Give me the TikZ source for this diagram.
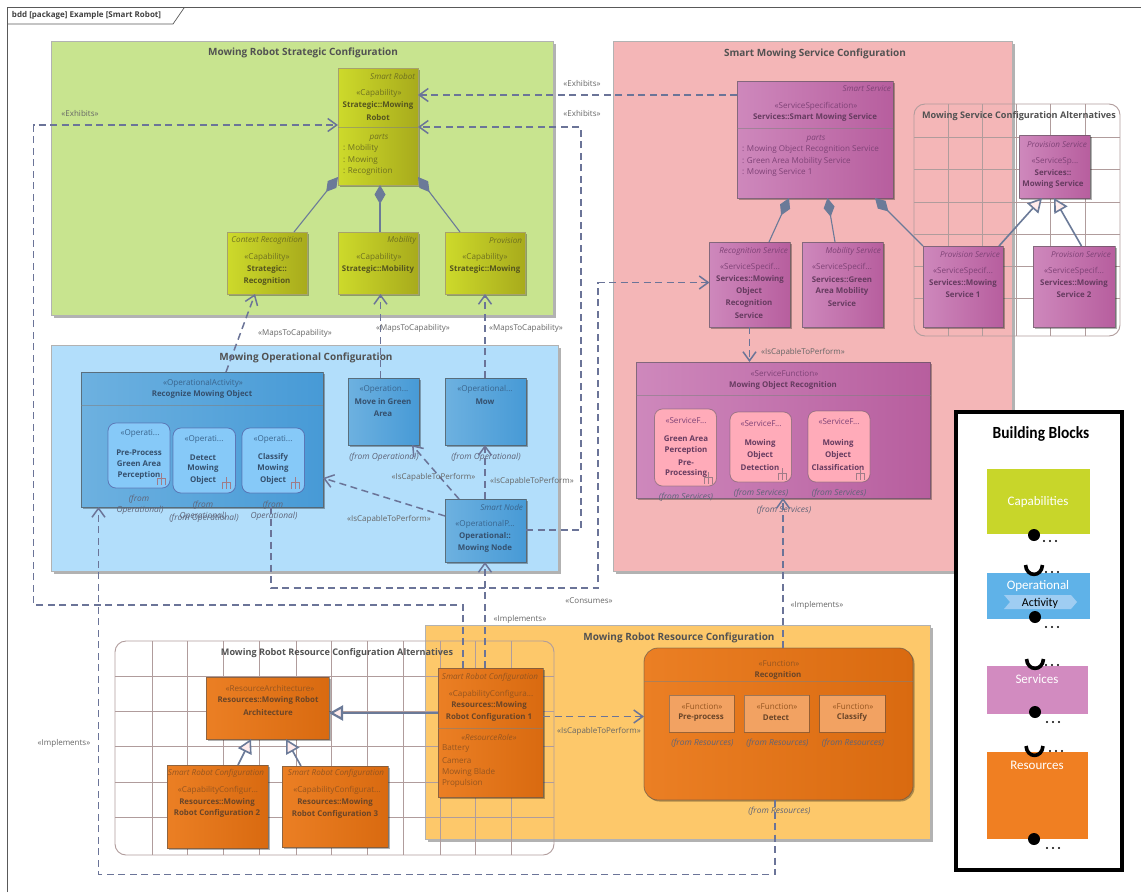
\documentclass[tikz,border=0pt]{standalone}
\usepackage{fontspec}
\usepackage{graphicx}
\setmainfont{Open Sans}
\newfontfamily\legfont{Carlito}
\usetikzlibrary{arrows.meta,shadows,calc}
\newcounter{txn}
% free text: x, y (centre of first line), style, text
\newcommand{\tx}[4]{\stepcounter{txn}\node[txtbase,#3] (t\number\value{txn}) at ({#1},{#2}) {#4};}
% box: style, name, x1, y1, x2, y2
\newcommand{\bx}[6]{\pgfmathsetmacro{\bw}{#5-#3}\pgfmathsetmacro{\bh}{#6-#4}%
 \node[boxbase,#1,minimum width=\bw pt,minimum height=\bh pt] (#2) at ({(#3+#5)/2},{(#4+#6)/2}) {};}
\newcommand{\rake}[2]{\draw[rakeline] ({#1},{#2-6}) -- ({#1},{#2+6}) ({#1-4},{#2+6}) -- ({#1-4},{#2-1}) -- ({#1+4},{#2-1}) -- ({#1+4},{#2+6});}
\newcommand{\mydots}[2]{\stepcounter{txn}\node[legdots] (t\number\value{txn}) at ({#1},{#2}) {};
 \fill ({#1-6},{#2}) circle (1.2) ({#1},{#2}) circle (1.2) ({#1+6},{#2}) circle (1.2);}
\definecolor{dashc}{HTML}{6B7498}
\definecolor{solidc}{HTML}{6B7A98}
\definecolor{gridc}{HTML}{B09C9C}
\definecolor{stc}{HTML}{6E7020}
\definecolor{nmc}{HTML}{55551F}
\tikzset{
 x=1pt,y=-1pt,
 txtbase/.style={inner sep=0pt,outer sep=0pt,align=center,yshift=-.8pt},
 legdots/.style={inner sep=0pt,minimum size=0pt},
 boxbase/.style={rectangle,outer sep=0pt,inner sep=0pt,line width=.8pt},
 st/.style={font=\fontsize{8.1}{11.8}\selectfont,text=stc},
 nm/.style={font=\bfseries\fontsize{7.9}{11.8}\selectfont,text=nmc},
 it/.style={font=\itshape\fontsize{8.1}{11.8}\selectfont,text=stc},
 pl/.style={font=\fontsize{8.1}{11.8}\selectfont,text=stc,anchor=west},
 lab/.style={font=\fontsize{8}{10}\selectfont,text=black!60},
 fromlab/.style={font=\itshape\fontsize{8.4}{11.8}\selectfont,text=fromc},
 pkgtitle/.style={font=\bfseries\fontsize{10}{12}\selectfont,text=black!68,yshift=-1pt},
 alttitle/.style={font=\bfseries\fontsize{9.1}{12}\selectfont,text=black!68,yshift=-.6pt},
 pkg/.style={draw=black!30,line width=1pt,drop shadow={shadow xshift=2.5pt,shadow yshift=-2.5pt,opacity=.3,fill=black}},
 alt/.style={draw=gridc,line width=.9pt,rounded corners=11pt},
 capbox/.style={draw=black!30!yellow!50!gray,left color=cCap1,right color=cCap2,drop shadow={shadow xshift=1.5pt,shadow yshift=-1.5pt,opacity=.3,fill=black}},
 opbox/.style={draw=black!35!gray,draw opacity=.7,left color=cOp1,right color=cOp2,drop shadow={shadow xshift=1.5pt,shadow yshift=-1.5pt,opacity=.3,fill=black}},
 svbox/.style={draw=black!35!gray,draw opacity=.6,left color=cSv1,right color=cSv2,drop shadow={shadow xshift=1.5pt,shadow yshift=-1.5pt,opacity=.3,fill=black}},
 rsbox/.style={draw=black!35!gray,draw opacity=.6,left color=cRs1,right color=cRs2,drop shadow={shadow xshift=1.5pt,shadow yshift=-1.5pt,opacity=.3,fill=black}},
 innerop/.style={draw=black!30!blue!40!gray,draw opacity=.6,fill=cOpIn,rounded corners=8pt},
 innersv/.style={draw=black!30!gray,draw opacity=.5,fill=cSvIn,rounded corners=8pt},
 innerrs/.style={draw=black!40!gray,draw opacity=.5,fill=cRsIn},
 divider/.style={draw=black!50,draw opacity=.55,line width=.8pt},
 rakeline/.style={draw=rakec,line width=.7pt},
 dep/.style={draw=dashc,line width=1.5pt,dash pattern=on 7pt off 4.5pt,-{Straight Barb[length=9pt,width=13pt,line width=1.5pt]}},
 comp/.style={draw=solidc,line width=1.1pt,-{Diamond[length=19pt,width=11pt,fill=solidc]}},
 gen/.style={draw=solidc,line width=1.6pt,-{Triangle[open,length=14pt,width=15pt,fill=white!92!red]}},
 genb/.style={gen,line width=2.2pt},
 legbox/.style={rectangle,outer sep=0pt,inner sep=0pt},
 legtxt/.style={font=\legfont\fontsize{13}{15}\selectfont,text=white},
}
\definecolor{fromc}{HTML}{5F6478}
\definecolor{rakec}{HTML}{A07C88}
\definecolor{cCap1}{HTML}{CDDA2B}\definecolor{cCap2}{HTML}{A8AB1C}
\definecolor{cOp1}{HTML}{6DB1E0}\definecolor{cOp2}{HTML}{479AD6}
\definecolor{cSv1}{HTML}{CE88BC}\definecolor{cSv2}{HTML}{B75E9E}
\definecolor{cRs1}{HTML}{EB7F24}\definecolor{cRs2}{HTML}{D96A10}
\definecolor{cOpIn}{HTML}{86C9F8}\definecolor{cSvIn}{HTML}{FFABB9}\definecolor{cRsIn}{HTML}{F2A262}
\definecolor{pGreen}{HTML}{C8E48F}\definecolor{pPink}{HTML}{F4B6B7}\definecolor{pBlue}{HTML}{B2DEFB}\definecolor{pOrange}{HTML}{FDC86A}
\definecolor{lCap}{HTML}{C8D62A}\definecolor{lOp}{HTML}{5FB2E8}\definecolor{lSv}{HTML}{D28BC0}\definecolor{lRs}{HTML}{F07F22}\definecolor{lArrow}{HTML}{9FCDF2}
\begin{document}
\begin{tikzpicture}
\useasboundingbox (0,0) rectangle (1141,892);
\fill[white] (0,0) rectangle (1141,892);
% diagram frame
\coordinate (fbl) at (7,892);\coordinate (ftl) at (7,7);\coordinate (ftr) at (1141,7);
\coordinate (tabA) at (184,8);\coordinate (tabB) at (173,24);\coordinate (tabC) at (7,24);
\draw[black!65,line width=1pt] (fbl) -- (ftl) -- (ftr);
\draw[black!65,line width=.7pt] (tabA) -- (tabB) -- (tabC);
\tx{12}{15}{anchor=west,font=\bfseries\fontsize{8}{10}\selectfont,text=black!75}{bdd [package] Example [Smart Robot]}
% packages
\bx{pkg,fill=pGreen}{pkgS}{51}{41}{553}{315}
\bx{pkg,fill=pPink}{pkgV}{613}{41}{1012}{571}
\bx{pkg,fill=pBlue}{pkgO}{51}{345}{558}{571}
\bx{pkg,fill=pOrange}{pkgR}{425}{625}{930}{839}
\tx{303}{51}{pkgtitle}{Mowing Robot Strategic Configuration}
\tx{815}{52}{pkgtitle}{Smart Mowing Service Configuration}
\tx{306}{356}{pkgtitle}{Mowing Operational Configuration}
\tx{679}{636}{pkgtitle}{Mowing Robot Resource Configuration}
% alternatives
\begin{scope}
\clip[rounded corners=11pt] (914,104) rectangle (1120,336);
\draw[gridc,line width=.8pt]
 \foreach \gx in {948,982.5,1016,1050,1085} {(\gx,104) -- (\gx,336)}
 \foreach \gy in {137,169,202,234,266.5,298.5} {(914,\gy) -- (1120,\gy)};
\end{scope}
\node[boxbase,alt,minimum width=206pt,minimum height=232pt] (altV) at (1017,220) {};
\tx{1019}{115}{alttitle}{Mowing Service Configuration Alternatives}
\begin{scope}
\clip[rounded corners=11pt] (115,641) rectangle (554,855);
\draw[gridc,line width=.8pt]
 \foreach \gx in {152,187,223,259,296,331,367,403,440,475,511} {(\gx,641) -- (\gx,855)}
 \foreach \gy in {676,711.5,746,782,817} {(115,\gy) -- (554,\gy)};
\end{scope}
\node[boxbase,alt,minimum width=439pt,minimum height=214pt] (altR) at (334.5,748) {};
\tx{337}{652}{alttitle}{Mowing Robot Resource Configuration Alternatives}
% capability boxes
\bx{capbox}{robot}{338}{68}{418}{185}
\bx{capbox}{ctx}{227}{232}{307}{294}
\bx{capbox}{mob}{338}{232}{418}{294}
\bx{capbox}{prov}{445}{232}{525}{294}
\draw[divider] (robot.west |- 0,127) -- (robot.east |- 0,127);
\tx{415}{76}{it,anchor=east}{Smart Robot}
\tx{379}{93}{st}{«Capability»}
\tx{378}{105}{nm}{Strategic::Mowing}
\tx{378}{117}{nm}{Robot}
\tx{379}{137}{it}{parts}
\tx{343}{148}{pl}{: Mobility}
\tx{343}{160}{pl}{: Mowing}
\tx{343}{171}{pl}{: Recognition}
\tx{267}{240}{it}{Context Recognition}
\tx{267}{257}{st}{«Capability»}
\tx{267}{269}{nm}{Strategic::}
\tx{267}{281}{nm}{Recognition}
\tx{416}{240}{it,anchor=east}{Mobility}
\tx{379}{257}{st}{«Capability»}
\tx{378}{269}{nm}{Strategic::Mobility}
\tx{522}{240}{it,anchor=east}{Provision}
\tx{485}{257}{st}{«Capability»}
\tx{485}{269}{nm}{Strategic::Mowing}
% service boxes
\definecolor{stc}{HTML}{7F4377}\definecolor{nmc}{HTML}{663B60}
\bx{svbox}{svc}{737}{81}{893}{198}
\bx{svbox}{recsv}{709.5}{242}{790}{327}
\bx{svbox}{mobsv}{802}{242}{883}{327}
\bx{svbox}{provsv}{1019.5}{135}{1090}{198}
\bx{svbox}{sv1}{923}{246}{1003}{327}
\bx{svbox}{sv2}{1033}{246}{1115}{327}
\bx{svbox}{sfn}{636}{362}{930.5}{498}
\draw[divider] (svc.west |- 0,128) -- (svc.east |- 0,128);
\draw[divider] (sfn.west |- 0,395) -- (sfn.east |- 0,395);
\tx{891}{88}{it,anchor=east}{Smart Service}
\tx{816}{105.5}{st}{«ServiceSpecification»}
\tx{815}{117}{nm}{Services::Smart Mowing Service}
\tx{816}{137.5}{it}{parts}
\tx{742}{149}{pl}{: Mowing Object Recognition Service}
\tx{742}{161}{pl}{: Green Area Mobility Service}
\tx{742}{172}{pl}{: Mowing Service 1}
\tx{788}{250.5}{it,anchor=east}{Recognition Service}
\tx{750}{267}{st}{«ServiceSpecif...}
\tx{750}{279}{nm}{Services::Mowing}
\tx{749}{291}{nm}{Object}
\tx{749}{303}{nm}{Recognition}
\tx{749}{315}{nm}{Service}
\tx{881}{250.5}{it,anchor=east}{Mobility Service}
\tx{842}{267}{st}{«ServiceSpecif...}
\tx{842}{279}{nm}{Services::Green}
\tx{842}{291}{nm}{Area Mobility}
\tx{842}{303}{nm}{Service}
\tx{1057}{144}{it}{Provision Service}
\tx{1055}{161}{st}{«ServiceSp...}
\tx{1053}{172}{nm}{Services::}
\tx{1053}{184}{nm}{Mowing Service}
\tx{970}{254}{it}{Provision Service}
\tx{963}{271}{st}{«ServiceSpecif...}
\tx{963}{283}{nm}{Services::Mowing}
\tx{963}{294}{nm}{Service 1}
\tx{1081}{254}{it}{Provision Service}
\tx{1074}{271}{st}{«ServiceSpecif...}
\tx{1074}{283}{nm}{Services::Mowing}
\tx{1074}{294}{nm}{Service 2}
\tx{784.5}{373}{st}{«ServiceFunction»}
\tx{783}{385}{nm}{Mowing Object Recognition}
\bx{innersv}{sf1}{654.5}{409}{716.5}{486}
\bx{innersv}{sf2}{730}{412}{791.5}{482}
\bx{innersv}{sf3}{808}{411}{870}{482}
\tx{686}{420}{st}{«ServiceF...}
\tx{686}{438}{nm}{Green Area}
\tx{686}{450}{nm}{Perception}
\tx{686}{462}{nm}{Pre-}
\tx{686}{473}{nm}{Processing}
\tx{761}{423}{st}{«ServiceF...}
\tx{760}{443}{nm}{Mowing}
\tx{760}{455}{nm}{Object}
\tx{760}{467}{nm}{Detection}
\tx{839}{421}{st}{«ServiceF...}
\tx{838}{443}{nm}{Mowing}
\tx{838}{455}{nm}{Object}
\tx{838}{467}{nm}{Classification}
\rake{708}{478}\rake{782}{474}\rake{860.5}{474}
\tx{686}{496}{fromlab}{(from Services)}
\tx{761}{492}{fromlab}{(from Services)}
\tx{839}{492}{fromlab}{(from Services)}
\tx{784}{509}{fromlab}{(from Services)}
% operational boxes
\definecolor{stc}{HTML}{3A648C}\definecolor{nmc}{HTML}{35506E}
\bx{opbox}{act}{81}{372}{323}{507}
\bx{opbox}{move}{348}{378}{419}{445}
\bx{opbox}{mow}{445}{378}{526}{445}
\bx{opbox}{onode}{445}{499}{526}{562}
\draw[divider] (act.west |- 0,405.5) -- (act.east |- 0,405.5);
\tx{203}{383}{st}{«OperationalActivity»}
\tx{202}{394}{nm}{Recognize Mowing Object}
\bx{innerop}{oa1}{108}{423}{170}{488}
\bx{innerop}{oa2}{173}{428}{235.5}{493}
\bx{innerop}{oa3}{242}{428}{304.5}{493}
\tx{140}{433}{st}{«Operati...}
\tx{139}{452}{nm}{Pre-Process}
\tx{139}{463}{nm}{Green Area}
\tx{139}{475}{nm}{Perception}
\tx{204}{439}{st}{«Operati...}
\tx{203}{457}{nm}{Detect}
\tx{203}{468}{nm}{Mowing}
\tx{203}{480}{nm}{Object}
\tx{273}{439}{st}{«Operati...}
\tx{273}{457}{nm}{Classify}
\tx{273}{468}{nm}{Mowing}
\tx{273}{480}{nm}{Object}
\rake{161}{479}\rake{226}{483}\rake{295}{483}
\tx{384}{389}{st}{«Operation...}
\tx{383}{401}{nm}{Move in Green}
\tx{383}{413}{nm}{Area}
\tx{485}{389}{st}{«Operational...}
\tx{485}{401}{nm}{Mow}
\tx{523}{507}{it,anchor=east}{Smart Node}
\tx{485}{524}{st}{«OperationalP...}
\tx{485}{536}{nm}{Operational::}
\tx{485}{548}{nm}{Mowing Node}
\tx{384}{456}{fromlab}{(from Operational)}
\tx{486}{456}{fromlab}{(from Operational)}
\tx{139}{498}{fromlab}{(from}
\tx{140}{510}{fromlab}{Operational)}
\tx{203}{504}{fromlab}{(from}
\tx{203}{516}{fromlab}{Operational)}
\tx{204}{517}{fromlab}{(from Operational)}
\tx{273}{504}{fromlab}{(from}
\tx{274}{516}{fromlab}{Operational)}
% resource boxes
\definecolor{stc}{HTML}{955520}\definecolor{nmc}{HTML}{6A4528}
\bx{rsbox}{arch}{206}{677}{329}{739}
\bx{rsbox}{cfg1}{438}{668}{543}{797}
\bx{rsbox}{cfg2}{167}{765}{268}{848}
\bx{rsbox}{cfg3}{282}{766}{388}{847}
\bx{rsbox,rounded corners=14pt}{rfn}{644}{648}{913}{800}
\draw[divider] (cfg1.west |- 0,728) -- (cfg1.east |- 0,728);
\draw[divider] (rfn.west |- 0,681) -- (rfn.east |- 0,681);
\tx{270}{688}{st}{«ResourceArchitecture»}
\tx{268}{700}{nm}{Resources::Mowing Robot}
\tx{268}{712}{nm}{Architecture}
\tx{490}{677}{it}{Smart Robot Configuration}
\tx{491}{694}{st}{«CapabilityConfigura...}
\tx{489}{705}{nm}{Resources::Mowing}
\tx{489}{717}{nm}{Robot Configuration 1}
\tx{489}{737}{it}{«ResourceRole»}
\tx{442}{748}{pl}{Battery}
\tx{442}{760}{pl}{Camera}
\tx{442}{772}{pl}{Mowing Blade}
\tx{442}{783}{pl}{Propulsion}
\tx{216}{773}{it}{Smart Robot Configuration}
\tx{218}{790}{st}{«CapabilityConfigur...}
\tx{217}{802}{nm}{Resources::Mowing}
\tx{217}{813}{nm}{Robot Configuration 2}
\tx{336}{773}{it}{Smart Robot Configuration}
\tx{337}{790}{st}{«CapabilityConfigurat...}
\tx{335}{802}{nm}{Resources::Mowing}
\tx{335}{814}{nm}{Robot Configuration 3}
\tx{779}{663}{st}{«Function»}
\tx{778}{675}{nm}{Recognition}
\bx{innerrs}{rf1}{669}{695}{734}{732}
\bx{innerrs}{rf2}{744}{695}{809}{732}
\bx{innerrs}{rf3}{819.5}{695}{885}{732}
\tx{702}{706}{st}{«Function»}
\tx{701}{717}{nm}{Pre-process}
\tx{777}{706}{st}{«Function»}
\tx{776}{717}{nm}{Detect}
\tx{853}{706}{st}{«Function»}
\tx{852}{717}{nm}{Classify}
\tx{702.5}{742}{fromlab}{(from Resources)}
\tx{777.5}{742}{fromlab}{(from Resources)}
\tx{853}{742}{fromlab}{(from Resources)}
\tx{779.5}{810}{fromlab}{(from Resources)}
% compositions
\draw[comp] (ctx.north -| 294,0) -- (robot.west |- 0,177);
\draw[comp] (mob.north -| 380,0) -- (robot.south -| 380,0);
\draw[comp] (prov.north -| 460,0) -- (robot.east |- 0,177);
\draw[comp] (recsv.north -| 769,0) -- (svc.south -| 789,0);
\draw[comp] (mobsv.north -| 835,0) -- (svc.south -| 827.5,0);
\draw[comp] (sv1.north west) -- (svc.south -| 875,0);
% generalisations
\draw[gen] (sv1.north -| 999,0) -- (provsv.south -| 1042,0);
\draw[gen] (sv2.north -| 1081.5,0) -- (provsv.south -| 1054,0);
\draw[genb] (cfg1.west |- 0,713) -- (arch.east |- 0,713);
\draw[gen] (cfg2.north -| 238,0) -- (arch.south -| 251,0);
\draw[gen] (cfg3.north -| 301,0) -- (arch.south -| 286,0);
% dependencies
\draw[dep] (svc.west |- 0,95) -- (robot.east |- 0,95);
\coordinate (w2a) at (581,530);\coordinate (w2b) at (581,127);
\draw[dep] (onode.east |- w2a) -- (w2a) -- (w2b) -- (robot.east |- w2b);
\coordinate (w3a) at (463,605);\coordinate (w3b) at (33.5,605);\coordinate (w3c) at (33.5,125);
\draw[dep] (cfg1.north -| w3a) -- (w3a) -- (w3b) -- (w3c) -- (robot.west |- w3c);
\draw[dep] (act.north -| 226,0) -- (ctx.south -| 255,0);
\draw[dep] (move.north -| 380.5,0) -- (mob.south -| 380.5,0);
\draw[dep] (mow.north -| 485,0) -- (prov.south -| 485,0);
\coordinate (w7a) at (271,588);\coordinate (w7b) at (598,588);\coordinate (w7c) at (598,282.5);
\draw[dep] (act.south -| w7a) -- (w7a) -- (w7b) -- (w7c) -- (recsv.west |- w7c);
\draw[dep] (onode.north -| 459,0) -- (move.south -| 412,0);
\draw[dep] (onode.north -| 485,0) -- (mow.south -| 485,0);
\draw[dep] (onode.west |- 0,516) -- (act.east |- 0,478);
\draw[dep] (cfg1.north -| 485,0) -- (onode.south -| 485,0);
\coordinate (w12a) at (775,874.5);\coordinate (w12b) at (98.5,874.5);
\draw[dep] (rfn.south -| w12a) -- (w12a) -- (w12b) -- (act.south -| w12b);
\draw[dep] (rfn.north -| 783,0) -- (sfn.south -| 783,0);
\draw[dep] (recsv.south -| 749.5,0) -- (sfn.north -| 749.5,0);
\draw[dep] (cfg1.east |- 0,716.5) -- (rfn.west |- 0,716.5);
% connector labels
\tx{582}{83}{lab}{«Exhibits»}
\tx{582}{113}{lab}{«Exhibits»}
\tx{80}{113}{lab}{«Exhibits»}
\tx{295}{333}{lab}{«MapsToCapability»}
\tx{413}{328}{lab}{«MapsToCapability»}
\tx{526}{328}{lab}{«MapsToCapability»}
\tx{433.5}{477}{lab}{«IsCapableToPerform»}
\tx{532}{481}{lab}{«IsCapableToPerform»}
\tx{389}{519}{lab}{«IsCapableToPerform»}
\tx{803}{352}{lab}{«IsCapableToPerform»}
\tx{599}{731}{lab}{«IsCapableToPerform»}
\tx{589}{600}{lab}{«Consumes»}
\tx{520}{619}{lab}{«Implements»}
\tx{817}{605}{lab}{«Implements»}
\tx{64}{743}{lab}{«Implements»}
% legend
\node[legbox,draw=black,fill=white,line width=3.5pt,minimum width=166pt,minimum height=458pt] (legend) at (1039,641) {};
\tx{1041}{433}{font=\legfont\bfseries\fontsize{17}{20}\selectfont,text=black}{\scalebox{.91}[1]{Building Blocks}}
\node[legbox,fill=lCap,minimum width=103pt,minimum height=65pt] (lgcap) at (1038.5,501.5) {};
\node[legbox,fill=lOp,minimum width=103pt,minimum height=46pt] (lgop) at (1038.5,596) {};
\node[legbox,fill=lSv,minimum width=101pt,minimum height=48pt] (lgsv) at (1037,690) {};
\node[legbox,fill=lRs,minimum width=101pt,minimum height=87pt] (lgrs) at (1037.5,795.5) {};
\fill[lArrow] (1004,595) -- (1071,595) -- (1077,602) -- (1071,609) -- (1004,609) -- (1010,602) -- cycle;
\tx{1038}{501}{legtxt}{Capabilities}
\tx{1038}{585}{legtxt}{Operational}
\tx{1040}{603}{legtxt,text=black,font=\legfont\fontsize{12}{14}\selectfont}{Activity}
\tx{1037}{678}{legtxt}{Services}
\tx{1037}{765}{legtxt}{Resources}
\fill (1034,535) circle (6);
\fill (1035,617) circle (6);
\fill (1035,712) circle (6);
\fill (1034,839) circle (6);
\draw[black,line width=3.6pt] (1025.5,565) .. controls (1026.5,577.5) and (1041.5,577.5) .. (1042.5,565);
\draw[black,line width=3.6pt] (1026.5,659) .. controls (1027.5,671.5) and (1042.5,671.5) .. (1043.5,659);
\draw[black,line width=3.6pt] (1026,746) .. controls (1027,758.5) and (1042,758.5) .. (1043,746);
\mydots{1050}{541}\mydots{1052}{572}\mydots{1052}{627}\mydots{1052}{665}\mydots{1053}{722}\mydots{1056}{751}\mydots{1053}{848}
\end{tikzpicture}
\end{document}
